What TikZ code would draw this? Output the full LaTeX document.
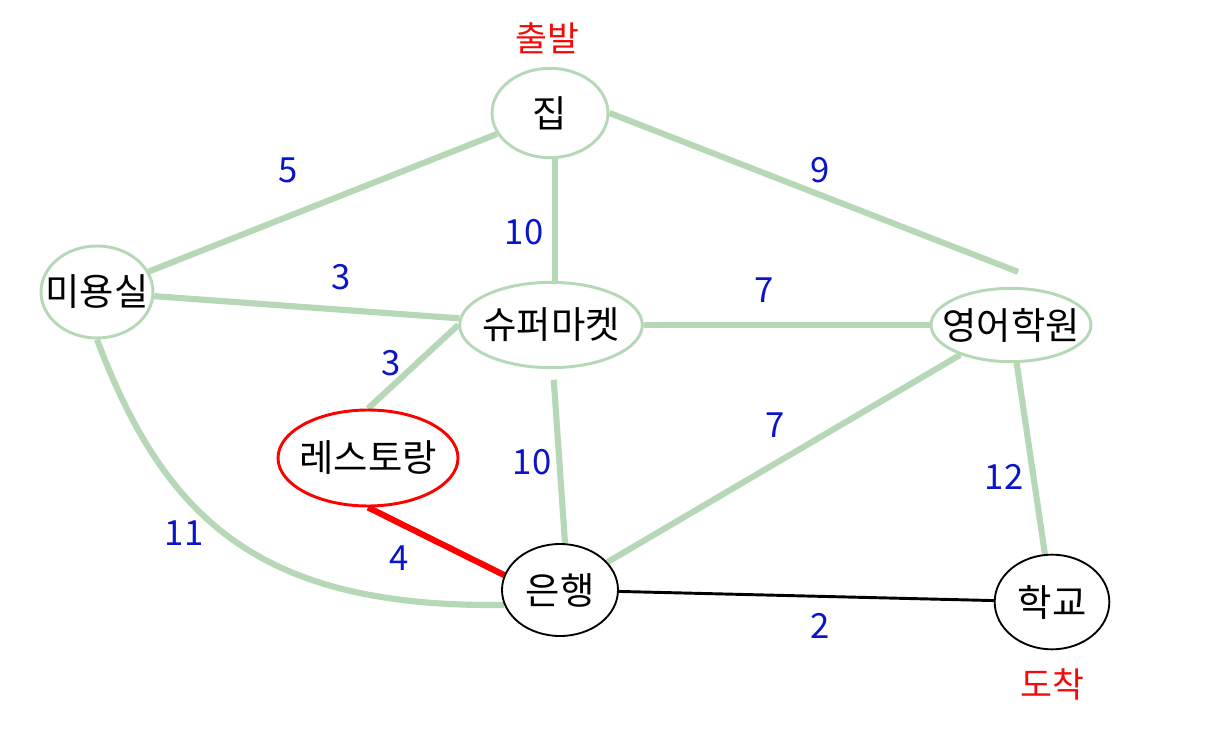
\documentclass[tikz,border=0pt]{standalone}
\usepackage{fontspec}
\setmainfont{Noto Sans CJK KR}
\usetikzlibrary{shapes.geometric,calc,backgrounds}
\definecolor{edgegreen}{RGB}{182,216,182}
\definecolor{numblue}{RGB}{10,20,200}
\definecolor{lblred}{RGB}{245,10,10}
\tikzset{
  place/.style={ellipse,inner xsep=-25pt,inner ysep=-8pt,fill=white,font=\fontsize{28}{32}\selectfont},
  gplace/.style={place,draw=edgegreen,line width=2.2pt},
  bplace/.style={place,draw=black,line width=1.4pt},
  rplace/.style={place,draw=red,line width=2.2pt},
  gedge/.style={draw=edgegreen,line width=4.6pt},
  wnum/.style={text=numblue,font=\fontsize{26}{30}\selectfont},
  tag/.style={text=lblred,font=\fontsize{26}{30}\selectfont},
}
\begin{document}
\begin{tikzpicture}[x=0.75pt,y=-0.75pt]
\useasboundingbox (0,0) rectangle (1221,748);
% nodes
\node[gplace,minimum width=87pt,minimum height=67pt] (jip) at (550,113) {집};
\node[gplace,minimum width=84pt,minimum height=69pt] (mi) at (97,292) {미용실};
\node[gplace,minimum width=137pt,minimum height=64pt] (super) at (551,325) {슈퍼마켓};
\node[gplace,minimum width=120pt,minimum height=55pt] (eng) at (1011,325) {영어학원};
\node[rplace,minimum width=135pt,minimum height=72pt] (rest) at (368,458) {레스토랑};
\node[bplace,minimum width=87pt,minimum height=69pt] (bank) at (560,590) {은행};
\node[bplace,minimum width=86pt,minimum height=71pt] (school) at (1052,602) {학교};
% tags
\node[tag] (start) at (547,38) {출발};
\node[tag] (goal) at (1052,684) {도착};
% weights
\node[wnum] (w1) at (288,170) {5};
\node[wnum] (w2) at (820,170) {9};
\node[wnum] (w3) at (524,232) {10};
\node[wnum] (w4) at (341,277) {3};
\node[wnum] (w5) at (764,290) {7};
\node[wnum] (w6) at (391,363) {3};
\node[wnum] (w7) at (532,462) {10};
\node[wnum] (w8) at (775,425) {7};
\node[wnum] (w9) at (1004,477) {12};
\node[wnum] (w10) at (184,533) {11};
\node[wnum] (w11) at (399,558) {4};
\node[wnum] (w12) at (820,626) {2};
% edges
\begin{pgfonlayer}{background}
\draw[gedge] (jip) -- (mi);
\draw[gedge] (jip.east) -- ($(eng.north)+(7,-15)$);
\draw[gedge] ($(jip.south)+(5,0)$) -- ($(super.north)+(4,0)$);
\draw[gedge] (mi) -- (super);
\draw[gedge] (super) -- (eng);
\draw[gedge] (rest.north) -- (super.west);
\draw[gedge,shorten <=8pt] ($(super.south)+(2,0)$) -- ($(bank.north)+(5,0)$);
\draw[gedge] (eng) -- (bank);
\draw[gedge] (eng) -- (school);
\draw[gedge] (mi.south) .. controls (165,520) and (260,608) .. (bank.195);
\draw[draw=red,line width=4.6pt] (rest.south) -- (bank.165);
\draw[draw=black,line width=2.2pt] (bank) -- (school);
\end{pgfonlayer}
\end{tikzpicture}
\end{document}
